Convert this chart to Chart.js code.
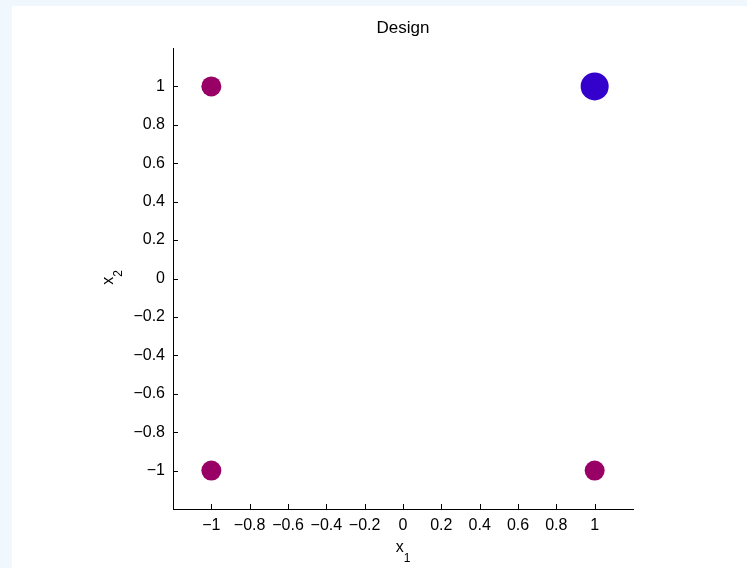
<!DOCTYPE html>
<html>
<head>
<meta charset="utf-8">
<script src="https://cdn.jsdelivr.net/npm/chart.js@4/dist/chart.umd.min.js"></script>
<style>
  html, body { margin: 0; padding: 0; background: #f0f7fd; }
  #wrap { position: absolute; left: 0; top: 0; width: 747px; height: 568px; }
</style>
</head>
<body>
<div id="wrap"><canvas id="graph" width="747" height="568"></canvas></div>
<script>
// design points (x1, x2)
const designX1 = [-1, 1, -1, 1];
const designX2 = [1, 1, -1, -1];

// highlighted point
const pickX1 = [1];
const pickX2 = [1];

// tick labels
const xTickValues = [-1, -0.8, -0.6, -0.4, -0.2, 0, 0.2, 0.4, 0.6, 0.8, 1];
const yTickValues = [-1, -0.8, -0.6, -0.4, -0.2, 0, 0.2, 0.4, 0.6, 0.8, 1];

// axis names (letter + subscript)
const xName = ['x', '1'];
const yName = ['x', '2'];

const FONT = 'Liberation Sans, Arial, Helvetica, sans-serif';

function toPoints(xs, ys) {
  return xs.map(function(x, i) { return {x: x, y: ys[i]}; });
}

function fmt(v) {
  let s = String(Math.round(v * 10) / 10);
  return s.replace('-', '\u2212');
}

// white panel behind the axes
const panelPlugin = {
  id: 'panel',
  beforeDraw(chart) {
    const ctx = chart.ctx;
    ctx.save();
    ctx.fillStyle = '#ffffff';
    ctx.fillRect(12, 6, chart.width - 12, chart.height - 6);
    ctx.restore();
  }
};

// tick marks pointing inward + axis names with subscripts
const axesPlugin = {
  id: 'axesExtra',
  afterDraw(chart) {
    const ctx = chart.ctx;
    const xs = chart.scales.x;
    const ys = chart.scales.y;
    const area = chart.chartArea;
    ctx.save();
    ctx.strokeStyle = '#000000';
    ctx.lineWidth = 1;
    ctx.beginPath();
    xs.ticks.forEach(function(t) {
      const px = Math.round(xs.getPixelForValue(t.value)) + 0.5;
      ctx.moveTo(px, area.bottom);
      ctx.lineTo(px, area.bottom - 5);
    });
    ys.ticks.forEach(function(t) {
      const py = Math.round(ys.getPixelForValue(t.value)) + 0.5;
      ctx.moveTo(area.left, py);
      ctx.lineTo(area.left + 5, py);
    });
    ctx.stroke();

    // x label
    ctx.fillStyle = '#000000';
    ctx.textBaseline = 'alphabetic';
    ctx.textAlign = 'left';
    const cx = (area.left + area.right) / 2;
    ctx.font = '16px ' + FONT;
    const w1 = ctx.measureText(xName[0]).width;
    ctx.font = '12px ' + FONT;
    const w2 = ctx.measureText(xName[1]).width;
    let x0 = cx - (w1 + w2) / 2;
    ctx.font = '16px ' + FONT;
    ctx.fillText(xName[0], x0, area.bottom + 43);
    ctx.font = '12px ' + FONT;
    ctx.fillText(xName[1], x0 + w1, area.bottom + 53);

    // y label (rotated)
    const cy = (area.top + area.bottom) / 2;
    ctx.translate(area.left - 60, cy - 1);
    ctx.rotate(-Math.PI / 2);
    ctx.font = '16px ' + FONT;
    const v1 = ctx.measureText(yName[0]).width;
    ctx.font = '12px ' + FONT;
    const v2 = ctx.measureText(yName[1]).width;
    x0 = -(v1 + v2) / 2;
    ctx.font = '16px ' + FONT;
    ctx.fillText(yName[0], x0, 0);
    ctx.font = '12px ' + FONT;
    ctx.fillText(yName[1], x0 + v1, 9);
    ctx.restore();
  }
};

new Chart(document.getElementById('graph'), {
  type: 'scatter',
  data: {
    datasets: [
      {
        label: 'current',
        data: toPoints(pickX1, pickX2),
        backgroundColor: 'rgb(51, 0, 204)',
        borderColor: 'rgb(51, 0, 204)',
        pointRadius: 14,
        pointHoverRadius: 14,
        borderWidth: 0
      },
      {
        label: 'design',
        data: toPoints(designX1, designX2),
        backgroundColor: 'rgb(153, 0, 102)',
        borderColor: 'rgb(153, 0, 102)',
        pointRadius: 10,
        pointHoverRadius: 10,
        borderWidth: 0
      }
    ]
  },
  options: {
    responsive: false,
    animation: false,
    layout: { padding: { left: 59, right: 0, top: 0, bottom: 0 } },
    plugins: {
      legend: { display: false },
      tooltip: { enabled: false },
      title: {
        display: true,
        text: 'Design',
        color: '#000000',
        font: { family: FONT, size: 17, weight: 'normal' },
        padding: { top: 18, bottom: 9.6 }
      }
    },
    scales: {
      x: {
        type: 'linear',
        min: -1.2,
        max: 1.2,
        afterBuildTicks: function(scale) {
          scale.ticks = xTickValues.map(function(v) { return {value: v}; });
        },
        afterFit: function(scale) { scale.height = 59; },
        border: { display: true, color: '#000000', width: 1 },
        grid: { display: true, drawOnChartArea: false, drawTicks: false },
        ticks: {
          color: '#000000',
          padding: 7,
          maxRotation: 0,
          autoSkip: false,
          font: { family: FONT, size: 16 },
          callback: function(v) { return fmt(v); }
        }
      },
      y: {
        type: 'linear',
        min: -1.2,
        max: 1.2,
        afterBuildTicks: function(scale) {
          scale.ticks = yTickValues.map(function(v) { return {value: v}; });
        },
        afterFit: function(scale) { scale.width = 114; },
        border: { display: true, color: '#000000', width: 1 },
        grid: { display: true, drawOnChartArea: false, drawTicks: false },
        ticks: {
          color: '#000000',
          padding: 8,
          autoSkip: false,
          font: { family: FONT, size: 16 },
          callback: function(v) { return fmt(v); }
        }
      },
      // empty right-hand scale, only to keep the right margin
      yr: {
        type: 'linear',
        position: 'right',
        min: -1.2,
        max: 1.2,
        afterFit: function(scale) { scale.width = 114; },
        border: { display: false },
        grid: { display: false },
        ticks: { display: false }
      }
    }
  },
  plugins: [panelPlugin, axesPlugin]
});
</script>
</body>
</html>
